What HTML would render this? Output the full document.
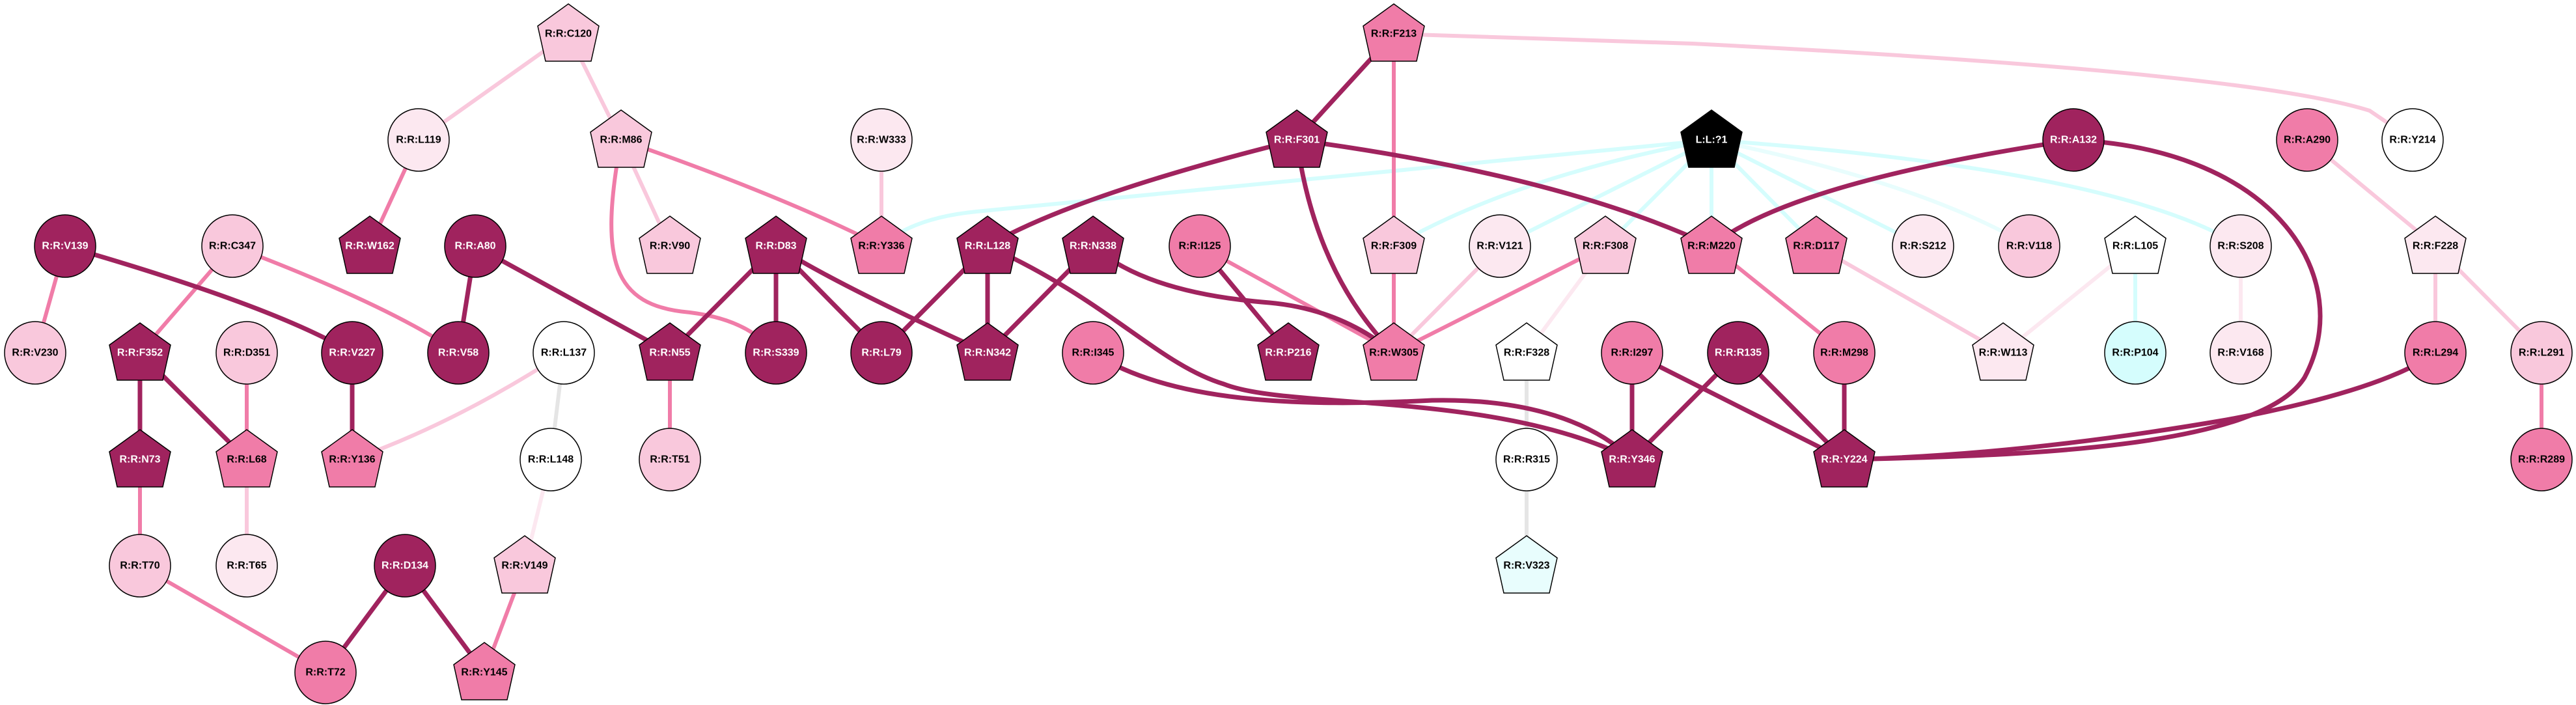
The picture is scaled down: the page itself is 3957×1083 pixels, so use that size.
<!DOCTYPE html>
<html><head><meta charset="utf-8"><style>
html,body{margin:0;padding:0;background:#fff;}
svg{display:block;}
text{font-family:"Liberation Sans",sans-serif;font-weight:bold;font-size:16px;text-anchor:middle;dominant-baseline:central;}
</style></head><body>
<svg width="3957" height="1083" viewBox="0 0 3957 1083" xmlns="http://www.w3.org/2000/svg">
<defs>
<polygon id="pg" points="0,-46 47,-12 35,42 -35,42 -47,-12" stroke="#000" stroke-width="1.5"/>
</defs>
<g fill="none" stroke-linecap="round">
<!-- cyan edges from L?1 -->
<g stroke="#d5fdfd" stroke-width="6">
<path d="M1354,378 Q1400,335 1500,325 L2629,215"/>
<path d="M2629,215 Q2330,270 2141,378"/>
<path d="M2629,215 L2304,378"/>
<path d="M2629,215 L2466,378"/>
<path d="M2629,215 L2629,378"/>
<path d="M2629,215 L2790,378"/>
<path d="M2629,215 L2954,378"/>
<path d="M2629,215 Q3250,260 3442,378"/>
<path d="M3280,378 L3280,542"/>
</g>
<path d="M2629,215 Q2950,280 3117,378" stroke="#e8fdfd" stroke-width="6"/>
<!-- gray -->
<g stroke="#e5e5e5" stroke-width="6">
<path d="M866,542 L846,706"/>
<path d="M2345,542 L2345,706"/>
<path d="M2345,706 L2345,869"/>
</g>
<!-- very light -->
<g stroke="#fce8f0" stroke-width="6">
<path d="M846,706 L806,869"/>
<path d="M2466,378 L2345,542"/>
<path d="M3280,378 L3077,542"/>
<path d="M3442,378 L3442,542"/>
</g>
<!-- light -->
<g stroke="#f9c8dc" stroke-width="6">
<path d="M873,52 L643,215"/>
<path d="M873,52 L954,215"/>
<path d="M954,215 L1029,378"/>
<path d="M1354,215 L1354,378"/>
<path d="M866,542 Q700,650 541,706"/>
<path d="M379,706 L379,869"/>
<path d="M2304,378 L2141,542"/>
<path d="M2790,378 L3077,542"/>
<path d="M3544,215 L3741,378"/>
<path d="M3741,378 L3741,542"/>
<path d="M3741,378 L3904,542"/>
<path d="M2141,52 L2600,67 Q3450,110 3640,170 L3706,215"/>
</g>
<!-- medium -->
<g stroke="#f07ca8" stroke-width="6">
<path d="M643,215 L568,378"/>
<path d="M954,215 Q1200,300 1354,378"/>
<path d="M954,215 C920,400 940,470 1060,480 C1140,490 1170,520 1192,542"/>
<path d="M100,378 L54,542"/>
<path d="M357,378 L215,542"/>
<path d="M357,378 Q600,470 704,542"/>
<path d="M379,542 L379,706"/>
<path d="M1029,542 L1029,706"/>
<path d="M215,706 L215,869"/>
<path d="M215,869 L500,1033"/>
<path d="M806,869 L744,1033"/>
<path d="M2141,52 L2141,378"/>
<path d="M1843,378 L2141,542"/>
<path d="M2141,378 L2141,542"/>
<path d="M2466,378 L2141,542"/>
<path d="M2629,378 L2833,542"/>
<path d="M3904,542 L3904,706"/>
</g>
<!-- dark -->
<g stroke="#a0235e" stroke-width="7">
<path d="M100,378 Q420,470 541,542"/>
<path d="M730,378 L704,542"/>
<path d="M730,378 L1029,542"/>
<path d="M1192,378 L1029,542"/>
<path d="M1192,378 L1192,542"/>
<path d="M1192,378 L1354,542"/>
<path d="M1192,378 Q1290,440 1517,542"/>
<path d="M215,542 L215,706"/>
<path d="M215,542 L379,706"/>
<path d="M541,542 L541,706"/>
<path d="M622,869 L500,1033"/>
<path d="M622,869 L744,1033"/>
<path d="M2141,52 L1992,215"/>
<path d="M1992,215 Q1650,300 1517,378"/>
<path d="M1992,215 Q2400,270 2629,378"/>
<path d="M1992,215 Q2020,420 2141,542"/>
<path d="M1517,378 L1354,542"/>
<path d="M1517,378 L1517,542"/>
<path d="M1679,378 L1517,542"/>
<path d="M1517,378 C1700,460 1780,560 1880,590 C1980,630 2300,600 2507,706"/>
<path d="M1679,542 C1800,620 2000,625 2200,615 C2350,612 2450,650 2507,706"/>
<path d="M1679,378 Q1760,450 1950,465 Q2060,475 2141,542"/>
<path d="M1843,378 L1979,542"/>
<path d="M2629,378 Q2750,280 3185,215"/>
<path d="M2507,542 L2507,706"/>
<path d="M2670,542 L2507,706"/>
<path d="M2507,542 L2833,706"/>
<path d="M2670,542 L2833,706"/>
<path d="M2833,542 L2833,706"/>
<path d="M3185,215 C3500,230 3620,430 3540,580 C3470,690 3100,700 2833,706"/>
<path d="M3741,542 Q3660,600 3420,645 Q3100,700 2833,706"/>
</g>
</g>
<g stroke="#000" stroke-width="1.5">
<!-- dark circles -->
<g fill="#a0235e">
<ellipse cx="100" cy="378" rx="47" ry="48"/><ellipse cx="730" cy="378" rx="47" ry="48"/>
<ellipse cx="541" cy="542" rx="47" ry="48"/><ellipse cx="704" cy="542" rx="47" ry="48"/>
<ellipse cx="1192" cy="542" rx="47" ry="48"/><ellipse cx="1354" cy="542" rx="47" ry="48"/>
<ellipse cx="622" cy="869" rx="47" ry="48"/><ellipse cx="2670" cy="542" rx="47" ry="48"/>
<ellipse cx="3185" cy="215" rx="47" ry="48"/>
</g>
<g fill="#f07ca8">
<ellipse cx="500" cy="1033" rx="47" ry="48"/><ellipse cx="1843" cy="378" rx="47" ry="48"/>
<ellipse cx="1679" cy="542" rx="47" ry="48"/><ellipse cx="2507" cy="542" rx="47" ry="48"/>
<ellipse cx="2833" cy="542" rx="47" ry="48"/><ellipse cx="3544" cy="215" rx="47" ry="48"/>
<ellipse cx="3741" cy="542" rx="47" ry="48"/><ellipse cx="3904" cy="706" rx="47" ry="48"/>
</g>
<g fill="#f9c8dc">
<ellipse cx="357" cy="378" rx="47" ry="48"/><ellipse cx="54" cy="542" rx="47" ry="48"/>
<ellipse cx="379" cy="542" rx="47" ry="48"/><ellipse cx="1029" cy="706" rx="47" ry="48"/>
<ellipse cx="215" cy="869" rx="47" ry="48"/><ellipse cx="3117" cy="378" rx="47" ry="48"/>
<ellipse cx="3904" cy="542" rx="47" ry="48"/>
</g>
<g fill="#fce8f0">
<ellipse cx="643" cy="215" rx="47" ry="48"/><ellipse cx="1354" cy="215" rx="47" ry="48"/>
<ellipse cx="379" cy="869" rx="47" ry="48"/><ellipse cx="2304" cy="378" rx="47" ry="48"/>
<ellipse cx="2954" cy="378" rx="47" ry="48"/><ellipse cx="3442" cy="378" rx="47" ry="48"/>
<ellipse cx="3442" cy="542" rx="47" ry="48"/>
</g>
<g fill="#ffffff">
<ellipse cx="866" cy="542" rx="47" ry="48"/><ellipse cx="846" cy="706" rx="47" ry="48"/>
<ellipse cx="2345" cy="706" rx="47" ry="48"/><ellipse cx="3706" cy="215" rx="47" ry="48"/>
</g>
<ellipse cx="3280" cy="542" rx="47" ry="48" fill="#d5fdfd"/>
</g>
<!-- pentagons -->
<g fill="#a0235e">
<use href="#pg" x="568" y="378"/><use href="#pg" x="1192" y="378"/>
<use href="#pg" x="215" y="542"/><use href="#pg" x="1029" y="542"/>
<use href="#pg" x="215" y="706"/><use href="#pg" x="1992" y="215"/>
<use href="#pg" x="1517" y="378"/><use href="#pg" x="1679" y="378"/>
<use href="#pg" x="1517" y="542"/><use href="#pg" x="1979" y="542"/>
<use href="#pg" x="2507" y="706"/><use href="#pg" x="2833" y="706"/>
</g>
<g fill="#f07ca8">
<use href="#pg" x="1354" y="378"/><use href="#pg" x="379" y="706"/>
<use href="#pg" x="541" y="706"/><use href="#pg" x="744" y="1033"/>
<use href="#pg" x="2141" y="52"/><use href="#pg" x="2141" y="542"/>
<use href="#pg" x="2629" y="378"/><use href="#pg" x="2790" y="378"/>
</g>
<g fill="#f9c8dc">
<use href="#pg" x="873" y="52"/><use href="#pg" x="954" y="215"/>
<use href="#pg" x="1029" y="378"/><use href="#pg" x="806" y="869"/>
<use href="#pg" x="2141" y="378"/><use href="#pg" x="2466" y="378"/>
</g>
<g fill="#fce8f0">
<use href="#pg" x="3077" y="542"/><use href="#pg" x="3741" y="378"/>
</g>
<g fill="#ffffff">
<use href="#pg" x="2345" y="542"/><use href="#pg" x="3280" y="378"/>
</g>
<use href="#pg" x="2345" y="869" fill="#e8fdfd"/>
<use href="#pg" x="2629" y="215" fill="#000"/>
<!-- labels white -->
<g fill="#fff">
<text x="100" y="378">R:R:V139</text><text x="730" y="378">R:R:A80</text>
<text x="541" y="542">R:R:V227</text><text x="704" y="542">R:R:V58</text>
<text x="1192" y="542">R:R:S339</text><text x="1354" y="542">R:R:L79</text>
<text x="622" y="869">R:R:D134</text><text x="2670" y="542">R:R:R135</text>
<text x="3185" y="215">R:R:A132</text>
<text x="568" y="378">R:R:W162</text><text x="1192" y="378">R:R:D83</text>
<text x="215" y="542">R:R:F352</text><text x="1029" y="542">R:R:N55</text>
<text x="215" y="706">R:R:N73</text><text x="1992" y="215">R:R:F301</text>
<text x="1517" y="378">R:R:L128</text><text x="1679" y="378">R:R:N338</text>
<text x="1517" y="542">R:R:N342</text><text x="1979" y="542">R:R:P216</text>
<text x="2507" y="706">R:R:Y346</text><text x="2833" y="706">R:R:Y224</text>
<text x="2629" y="215">L:L:?1</text>
</g>
<g fill="#000">
<text x="500" y="1033">R:R:T72</text><text x="1843" y="378">R:R:I125</text>
<text x="1679" y="542">R:R:I345</text><text x="2507" y="542">R:R:I297</text>
<text x="2833" y="542">R:R:M298</text><text x="3544" y="215">R:R:A290</text>
<text x="3741" y="542">R:R:L294</text><text x="3904" y="706">R:R:R289</text>
<text x="357" y="378">R:R:C347</text><text x="54" y="542">R:R:V230</text>
<text x="379" y="542">R:R:D351</text><text x="1029" y="706">R:R:T51</text>
<text x="215" y="869">R:R:T70</text><text x="3117" y="378">R:R:V118</text>
<text x="3904" y="542">R:R:L291</text>
<text x="643" y="215">R:R:L119</text><text x="1354" y="215">R:R:W333</text>
<text x="379" y="869">R:R:T65</text><text x="2304" y="378">R:R:V121</text>
<text x="2954" y="378">R:R:S212</text><text x="3442" y="378">R:R:S208</text>
<text x="3442" y="542">R:R:V168</text>
<text x="866" y="542">R:R:L137</text><text x="846" y="706">R:R:L148</text>
<text x="2345" y="706">R:R:R315</text><text x="3706" y="215">R:R:Y214</text>
<text x="3280" y="542">R:R:P104</text>
<text x="1354" y="378">R:R:Y336</text><text x="379" y="706">R:R:L68</text>
<text x="541" y="706">R:R:Y136</text><text x="744" y="1033">R:R:Y145</text>
<text x="2141" y="52">R:R:F213</text><text x="2141" y="542">R:R:W305</text>
<text x="2629" y="378">R:R:M220</text><text x="2790" y="378">R:R:D117</text>
<text x="873" y="52">R:R:C120</text><text x="954" y="215">R:R:M86</text>
<text x="1029" y="378">R:R:V90</text><text x="806" y="869">R:R:V149</text>
<text x="2141" y="378">R:R:F309</text><text x="2466" y="378">R:R:F308</text>
<text x="3077" y="542">R:R:W113</text><text x="3741" y="378">R:R:F228</text>
<text x="2345" y="542">R:R:F328</text><text x="3280" y="378">R:R:L105</text>
<text x="2345" y="869">R:R:V323</text>
</g>
</svg>
</body></html>
